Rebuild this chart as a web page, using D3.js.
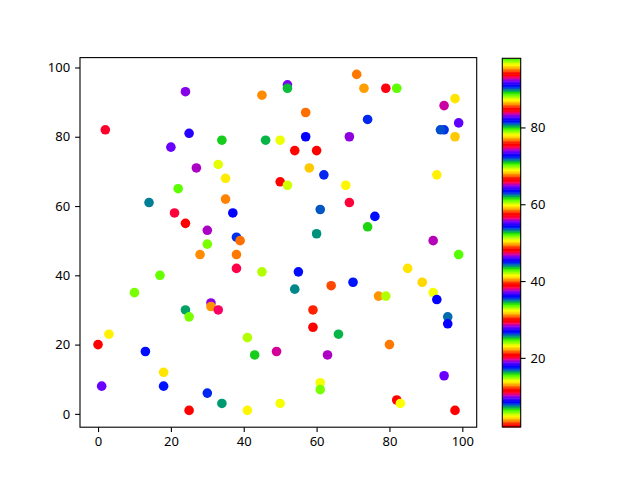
<!DOCTYPE html>
<html>
<head>
<meta charset="utf-8">
<script src="https://cdn.jsdelivr.net/npm/d3@7"></script>
<style>
  body { margin: 0; background: #fff; }
  svg { display: block; }
  .tick text { font-family: "Noto Sans", "DejaVu Sans", sans-serif; font-size: 13px; fill: #000; }
</style>
</head>
<body>
<div id="chart"></div>
<script>
const width = 640;
const height = 480;

// data
const xs = [24, 45, 2, 25, 20, 34, 46, 50, 27, 33, 35, 50, 22, 14, 35, 21, 37, 24, 30, 38,
            39, 30, 71, 52, 52, 73, 79, 82, 98, 95, 57, 74, 99, 95, 94, 98, 57, 69, 54, 60,
            58, 62, 93, 52, 68, 69, 61, 76, 74, 60, 92, 28, 38, 38, 45, 17, 10, 31, 31, 33,
            24, 25, 3, 0, 41, 43, 49, 13, 18, 1, 18, 30, 34, 25, 41, 50, 99, 55, 85, 89,
            70, 54, 64, 77, 79, 92, 93, 96, 96, 59, 59, 66, 80, 63, 95, 61, 61, 82, 83, 98];
const ys = [93, 92, 82, 81, 77, 79, 79, 79, 71, 72, 68, 67, 65, 61, 62, 58, 58, 55, 53, 51,
            50, 49, 98, 95, 94, 94, 94, 94, 91, 89, 87, 85, 84, 82, 82, 80, 80, 80, 76, 76,
            71, 69, 69, 66, 66, 61, 59, 57, 54, 52, 50, 46, 46, 42, 41, 40, 35, 32, 31, 30,
            30, 28, 23, 20, 22, 17, 18, 18, 12, 8, 8, 6, 3, 1, 1, 3, 46, 41, 42, 38,
            38, 36, 37, 34, 34, 35, 33, 28, 26, 30, 25, 23, 20, 17, 11, 9, 7, 4, 3, 1];
const cs = [19.0, 22.0, 38.4, 45.6, 55.3, 61.9, 71.1, 78.3, 92.5, 5.3, 13.9, 20.6, 33.5, 44.1, 49.6, 66.0, 72.5, 75.7, 92.5, 8.2,
            12.8, 24.3, 31.2, 46.4, 52.8, 58.7, 75.2, 79.4, 86.8, 10.5, 12.8, 26.7, 36.9, 54.1, 44.4, 59.2, 72.5, 83.1, 84.9, 2.0,
            13.6, 26.6, 32.3, 42.1, 50.5, 66.0, 71.9, 81.7, 89.0, 7.6, 19.6, 22.0, 31.2, 47.6, 51.3, 61.0, 70.2, 83.3, 86.3, 10.9,
            16.6, 24.3, 32.3, 39.0, 51.3, 61.9, 74.4, 81.7, 87.1, 9.8, 17.4, 26.6, 34.7, 39.0, 50.7, 59.9, 98.0, 81.7, 86.8, 4.4,
            17.4, 25.7, 30.6, 40.4, 51.3, 59.9, 72.5, 81.1, 90.9, 3.0, 11.4, 25.3, 31.2, 46.9, 55.3, 59.9, 70.2, 75.7, 87.4, 2.2];
const xTicks = [0, 20, 40, 60, 80, 100];
const yTicks = [0, 20, 40, 60, 80, 100];
const cTicks = [20, 40, 60, 80];

const points = xs.map((x, i) => ({ x: x, y: ys[i], c: cs[i] }));

// matplotlib "prism" colormap, 256 entry lookup table
function prism(t) {
  const k = Math.min(255, Math.max(0, Math.floor(t * 256))) / 255;
  const clip = v => Math.max(0, Math.min(1, v));
  const r = clip(0.75 * Math.sin((k * 20.9 + 0.25) * Math.PI) + 0.67);
  const g = clip(0.75 * Math.sin((k * 20.9 - 0.25) * Math.PI) + 0.33);
  const b = clip(-1.1 * Math.sin(k * 20.9 * Math.PI));
  return d3.rgb(r * 255, g * 255, b * 255).toString();
}

const svg = d3.select("#chart").append("svg")
    .attr("width", width)
    .attr("height", height);

// main axes box
const axLeft = 80, axRight = 476.7, axTop = 57.6, axBottom = 427.2;

const x = d3.scaleLinear().domain([-4.95, 103.95]).range([axLeft, axRight]);
const y = d3.scaleLinear().domain([-3.85, 102.85]).range([axBottom, axTop]);
const color = d3.scaleSequential(prism).domain(d3.extent(cs));

svg.append("g")
    .selectAll("circle")
    .data(points)
    .join("circle")
    .attr("cx", d => x(d.x))
    .attr("cy", d => y(d.y))
    .attr("r", 4.8)
    .attr("fill", d => color(d.c));

const xAxis = svg.append("g")
    .attr("transform", `translate(0,${axBottom})`)
    .call(d3.axisBottom(x).tickValues(xTicks).tickSize(4.9).tickPadding(5));
const yAxis = svg.append("g")
    .attr("transform", `translate(${axLeft},0)`)
    .call(d3.axisLeft(y).tickValues(yTicks).tickSize(4.9).tickPadding(5));
[xAxis, yAxis].forEach(a => {
  a.select(".domain").remove();
  a.selectAll(".tick line").attr("stroke", "#000").attr("stroke-width", 1.1);
});

svg.append("rect")
    .attr("x", axLeft).attr("y", axTop)
    .attr("width", axRight - axLeft).attr("height", axBottom - axTop)
    .attr("fill", "none")
    .attr("stroke", "#000")
    .attr("stroke-width", 1.1);

// colorbar
const cbLeft = 502.3, cbRight = 520.7, cbTop = 58.3, cbBottom = 427;
const cy = d3.scaleLinear().domain(color.domain()).range([cbBottom, cbTop]);
const steps = d3.range(256);
const [c0, c1] = color.domain();
svg.append("g")
    .selectAll("rect")
    .data(steps)
    .join("rect")
    .attr("x", cbLeft)
    .attr("width", cbRight - cbLeft)
    .attr("y", i => cy(c0 + (c1 - c0) * (i + 1) / 256))
    .attr("height", i => cy(c0 + (c1 - c0) * i / 256) - cy(c0 + (c1 - c0) * (i + 1) / 256) + 0.5)
    .attr("fill", i => color(c0 + (c1 - c0) * (i + 0.5) / 256));

svg.append("rect")
    .attr("x", cbLeft).attr("y", cbTop)
    .attr("width", cbRight - cbLeft).attr("height", cbBottom - cbTop)
    .attr("fill", "none")
    .attr("stroke", "#000")
    .attr("stroke-width", 1.1);

const cAxis = svg.append("g")
    .attr("transform", `translate(${cbRight},0)`)
    .call(d3.axisRight(cy).tickValues(cTicks).tickSize(4.9).tickPadding(5));
cAxis.select(".domain").remove();
cAxis.selectAll(".tick line").attr("stroke", "#000").attr("stroke-width", 1.1);
</script>
</body>
</html>
